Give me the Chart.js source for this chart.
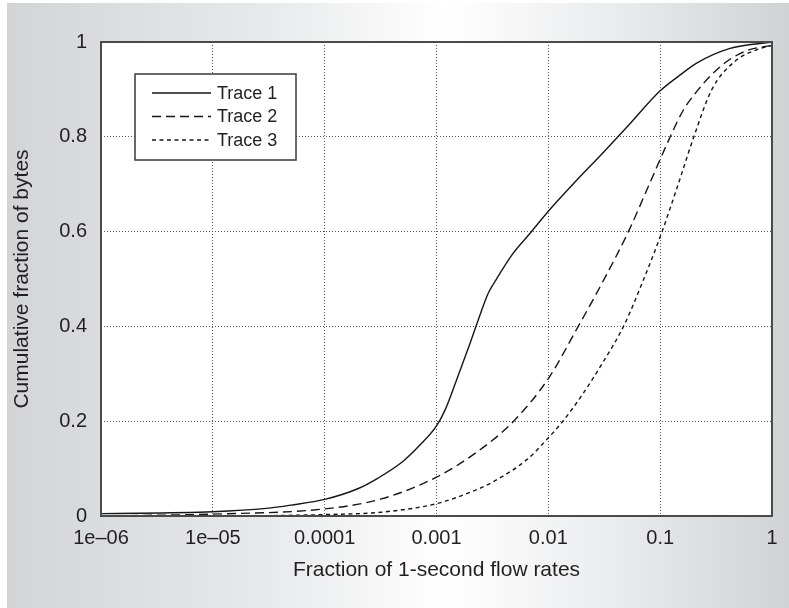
<!DOCTYPE html>
<html>
<head>
<meta charset="utf-8">
<script src="https://cdn.jsdelivr.net/npm/chart.js@4/dist/chart.umd.min.js"></script>
<style>
  html, body { margin: 0; padding: 0; background: #fff; }
  #wrap { width: 789px; height: 608px; }
</style>
</head>
<body>
<div id="wrap"><canvas id="c" width="789" height="608"></canvas></div>
<script>
// ---- data ----
const seriesNames = ['Trace 1', 'Trace 2', 'Trace 3'];

const trace1X = [1e-6, 1e-5, 3e-5, 5e-5, 1e-4, 2e-4, 3e-4, 5e-4, 7e-4, 1e-3, 1.2e-3, 1.5e-3, 2e-3, 2.5e-3, 2.9e-3, 3.3e-3, 4.8e-3, 6.9e-3, 1e-2, 1.66e-2, 3.1e-2, 5.2e-2, 0.1, 0.15, 0.21, 0.415, 1];
const trace1Y = [0.005, 0.009, 0.016, 0.023, 0.035, 0.058, 0.08, 0.115, 0.148, 0.19, 0.225, 0.285, 0.365, 0.43, 0.47, 0.493, 0.553, 0.597, 0.643, 0.70, 0.767, 0.824, 0.897, 0.93, 0.955, 0.986, 1.0];

const trace2X = [1e-6, 1e-5, 1e-4, 3.2e-4, 1e-3, 2.3e-3, 4.8e-3, 1e-2, 1.85e-2, 3e-2, 5.2e-2, 8e-2, 0.123, 0.16, 0.22, 0.3, 0.4, 0.6, 1];
const trace2Y = [0.0, 0.004, 0.015, 0.036, 0.082, 0.135, 0.198, 0.29, 0.40, 0.49, 0.60, 0.70, 0.80, 0.855, 0.90, 0.935, 0.96, 0.982, 0.993];

const trace3X = [1e-6, 1e-5, 1e-4, 3.2e-4, 1e-3, 2e-3, 3.2e-3, 6.5e-3, 1e-2, 1.35e-2, 2e-2, 3e-2, 4.7e-2, 7e-2, 0.104, 0.145, 0.2, 0.29, 0.47, 0.72, 1];
const trace3Y = [0.0, 0.0, 0.003, 0.008, 0.026, 0.05, 0.072, 0.12, 0.165, 0.20, 0.255, 0.32, 0.40, 0.495, 0.60, 0.70, 0.80, 0.90, 0.96, 0.983, 0.993];

const xTickValues = [1e-6, 1e-5, 1e-4, 1e-3, 1e-2, 1e-1, 1];
const xTickLabels = ['1e\u201306', '1e\u201305', '0.0001', '0.001', '0.01', '0.1', '1'];
const yTickValues = [0, 0.2, 0.4, 0.6, 0.8, 1];
const yTickLabels = ['0', '0.2', '0.4', '0.6', '0.8', '1'];

const xTitle = 'Fraction of 1-second flow rates';
const yTitle = 'Cumulative fraction of bytes';

// ---- styling ----
const FONT = '"Liberation Sans", Arial, Helvetica, sans-serif';
const INK = '#231f20';
const dashes = [[], [9, 5], [4, 3.5]];

const pts = (xs, ys) => xs.map((x, i) => ({ x: x, y: ys[i] }));
const seriesData = [pts(trace1X, trace1Y), pts(trace2X, trace2Y), pts(trace3X, trace3Y)];

const datasets = seriesNames.map((name, i) => ({
  label: name,
  data: seriesData[i],
  borderColor: '#161616',
  borderWidth: 1.4,
  borderDash: dashes[i],
  pointRadius: 0,
  fill: false,
  cubicInterpolationMode: 'monotone',
  tension: 0.4
}));

const bgPlugin = {
  id: 'bg',
  beforeDraw(chart) {
    const ctx = chart.ctx;
    const W = chart.width, H = chart.height;
    ctx.save();
    ctx.fillStyle = '#ffffff';
    ctx.fillRect(0, 0, W, H);
    const g = ctx.createLinearGradient(7, 0, W, 0);
    g.addColorStop(0, '#d3d4d6');
    g.addColorStop(0.33, '#e8e9ea');
    g.addColorStop(0.56, '#ffffff');
    g.addColorStop(0.78, '#eaebec');
    g.addColorStop(1, '#d1d2d4');
    ctx.fillStyle = g;
    ctx.fillRect(7, 3, W - 7, H - 3);
    const a = chart.chartArea;
    ctx.fillStyle = '#ffffff';
    ctx.fillRect(a.left, a.top, a.right - a.left, a.bottom - a.top);
    ctx.restore();
  }
};

const framePlugin = {
  id: 'frame',
  afterDatasetsDraw(chart) {
    const ctx = chart.ctx;
    const a = chart.chartArea;
    ctx.save();
    // frame
    ctx.strokeStyle = '#4a4a4a';
    ctx.lineWidth = 2;
    ctx.setLineDash([]);
    ctx.strokeRect(a.left, a.top, a.right - a.left, a.bottom - a.top);
    // legend box
    const bx = a.left + 34, by = a.top + 32, bw = 161, bh = 86;
    ctx.fillStyle = '#ffffff';
    ctx.fillRect(bx, by, bw, bh);
    ctx.lineWidth = 1.5;
    ctx.strokeStyle = '#3a3a3a';
    ctx.strokeRect(bx, by, bw, bh);
    ctx.font = '18px ' + FONT;
    ctx.textBaseline = 'middle';
    ctx.textAlign = 'left';
    chart.data.datasets.forEach((ds, i) => {
      const y = by + 19 + i * 23.5;
      ctx.beginPath();
      ctx.setLineDash(ds.borderDash || []);
      ctx.lineWidth = ds.borderWidth;
      ctx.strokeStyle = ds.borderColor;
      ctx.moveTo(bx + 17, y);
      ctx.lineTo(bx + 76, y);
      ctx.stroke();
      ctx.setLineDash([]);
      ctx.fillStyle = INK;
      ctx.fillText(ds.label, bx + 82, y + 1);
    });
    ctx.restore();
  }
};

new Chart(document.getElementById('c'), {
  type: 'line',
  data: { datasets: datasets },
  plugins: [bgPlugin, framePlugin],
  options: {
    responsive: false,
    animation: false,
    devicePixelRatio: 1,
    layout: { padding: { left: 0, top: 42, right: 17, bottom: 0 } },
    plugins: { legend: { display: false }, tooltip: { enabled: false } },
    scales: {
      x: {
        type: 'logarithmic',
        min: xTickValues[0],
        max: xTickValues[xTickValues.length - 1],
        afterBuildTicks(scale) { scale.ticks = xTickValues.map(v => ({ value: v })); },
        afterFit(scale) { scale.height = 92; },
        ticks: {
          autoSkip: false,
          maxRotation: 0,
          padding: 10,
          color: INK,
          font: { family: FONT, size: 20 },
          callback(value, index) { return xTickLabels[index]; }
        },
        grid: { color: '#555', lineWidth: 1, drawTicks: false },
        border: { display: false, dash: [1, 2] },
        title: {
          display: true, text: xTitle, color: INK,
          font: { family: FONT, size: 21 },
          padding: { top: 0, bottom: 25 }
        }
      },
      y: {
        type: 'linear',
        min: 0, max: 1,
        afterBuildTicks(scale) { scale.ticks = yTickValues.map(v => ({ value: v })); },
        afterFit(scale) { scale.width = 101; },
        ticks: {
          padding: 14,
          color: INK,
          font: { family: FONT, size: 20 },
          callback(value, index) { return yTickLabels[index]; }
        },
        grid: { color: '#555', lineWidth: 1, drawTicks: false },
        border: { display: false, dash: [1, 2] },
        title: {
          display: true, text: yTitle, color: INK,
          font: { family: FONT, size: 21 },
          padding: { top: 10, bottom: 0 }
        }
      }
    }
  }
});
</script>
</body>
</html>
